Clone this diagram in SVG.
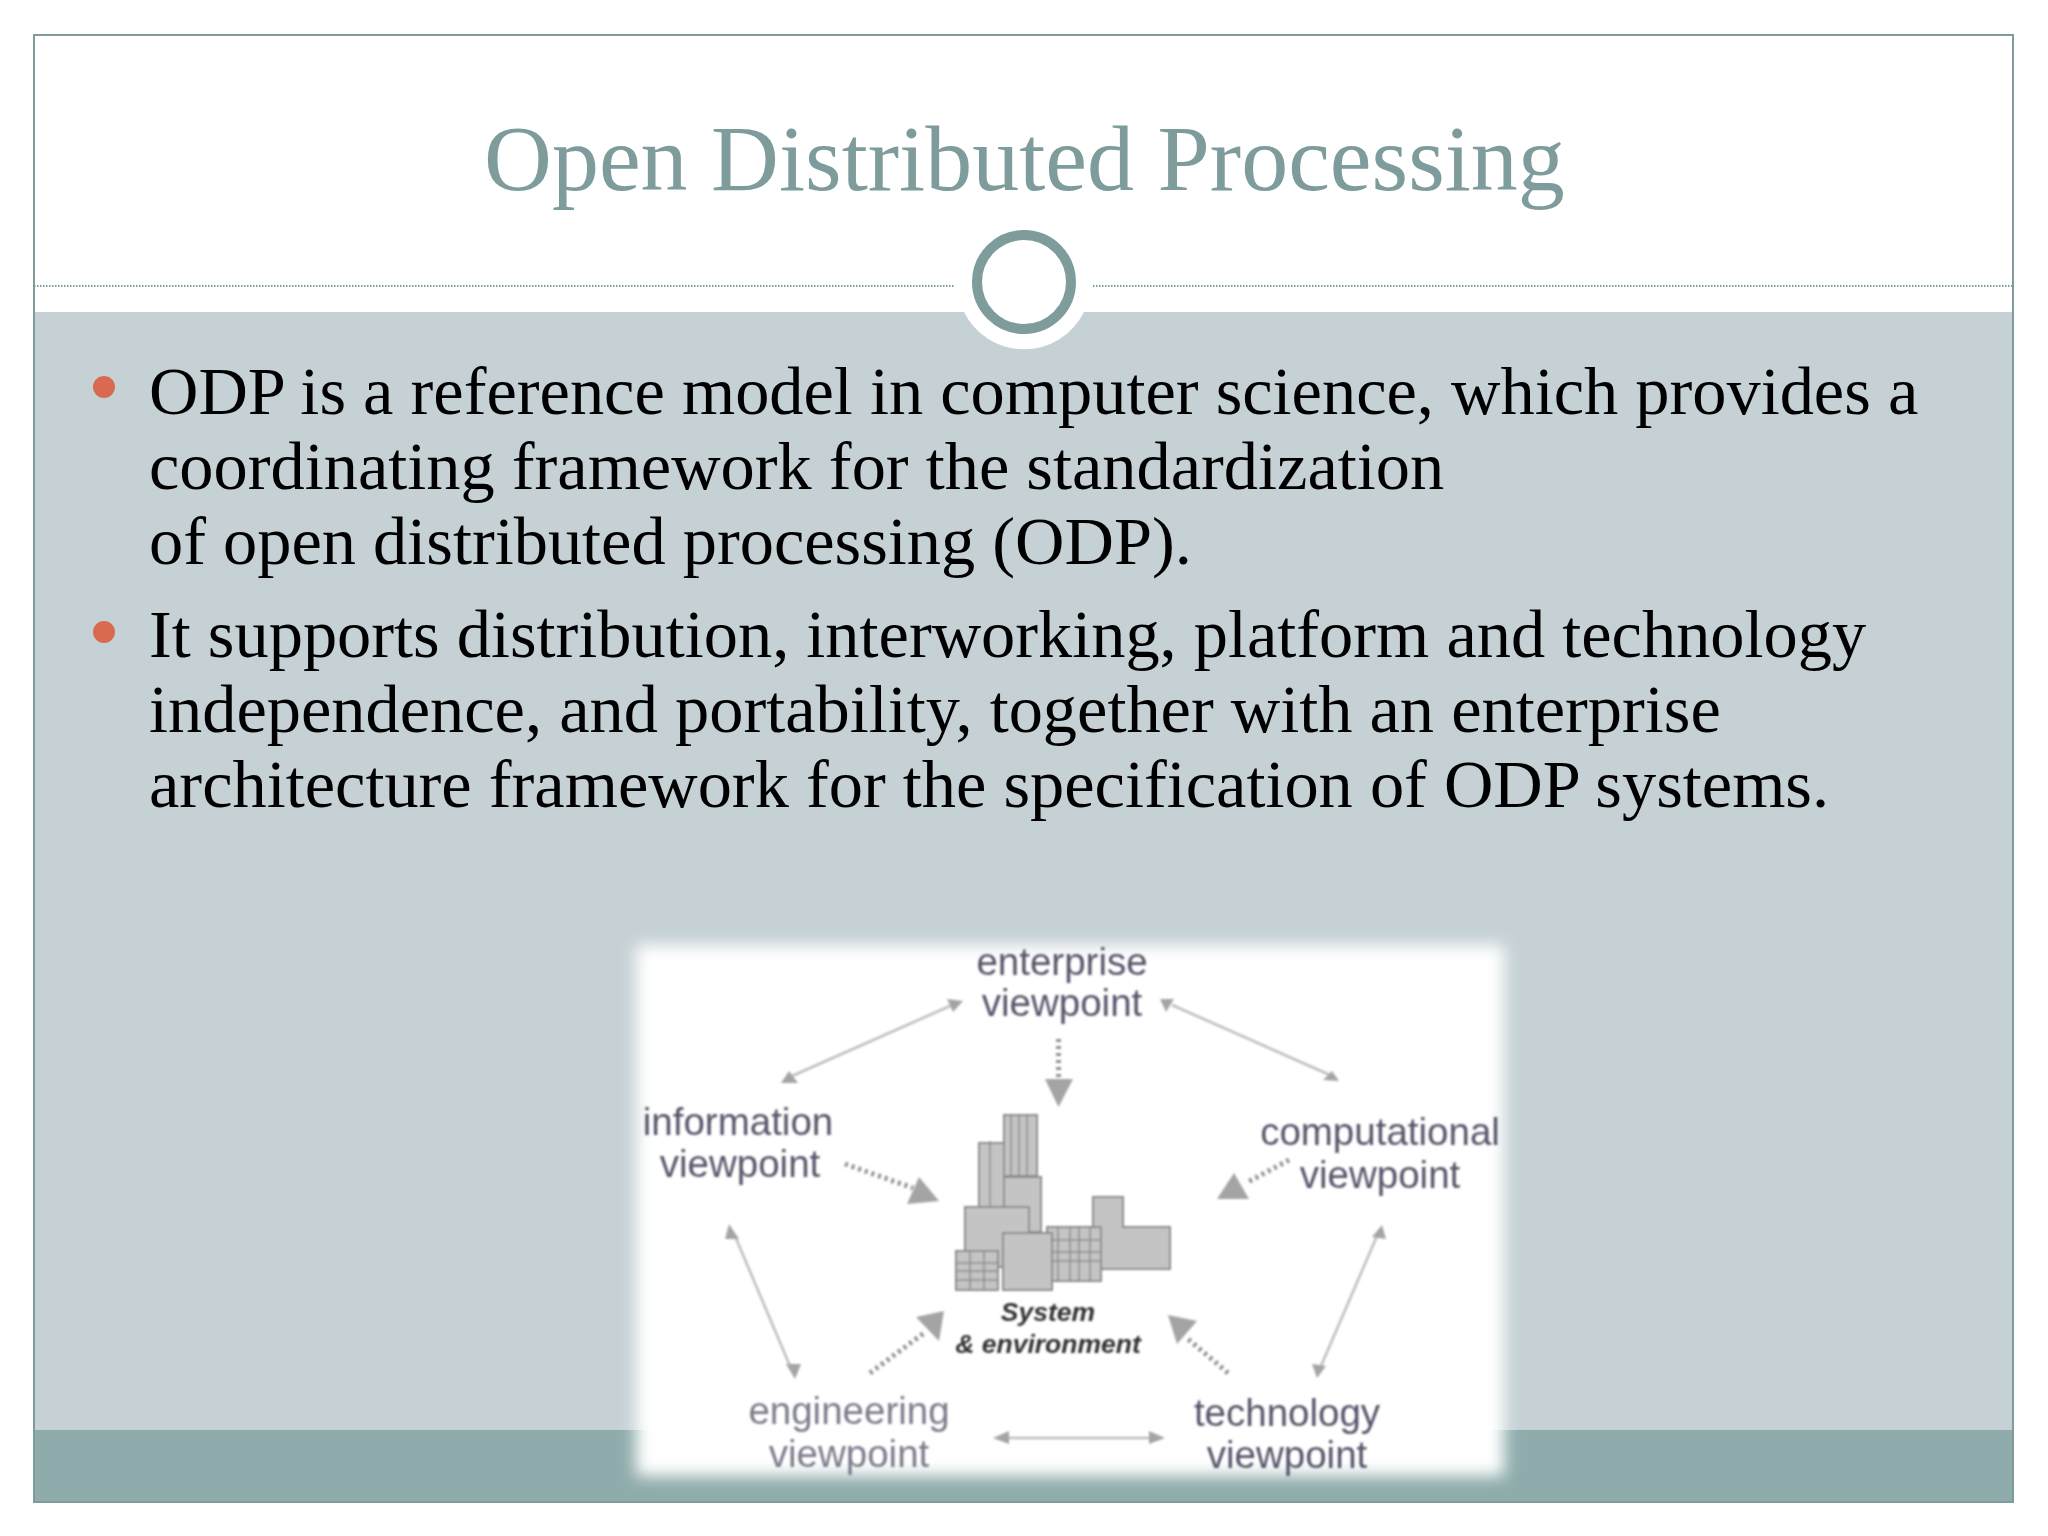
<svg xmlns="http://www.w3.org/2000/svg" width="2048" height="1536" viewBox="0 0 2048 1536">
<style>
.body{font-family:"Liberation Serif",serif;font-size:68.400px;fill:#000}
.title{font-family:"Liberation Serif",serif;font-size:94px;fill:#7f9c9c}
.vp{font-family:"Liberation Sans",sans-serif;font-size:38.500px;fill:#55556a;text-anchor:middle}
.lt{fill:#7c7c8c}
.sys{font-family:"Liberation Sans",sans-serif;font-size:26.500px;font-style:italic;font-weight:bold;fill:#333;text-anchor:middle}
.thin{stroke:#bdbdbd;stroke-width:2.500;fill:none}
.dot{stroke:#8f8f8f;stroke-width:5;stroke-dasharray:3 4;fill:none}
.hs{fill:#a4a4a4}
.hl{fill:#a4a4a4}
.b{fill:#c4c4c4;stroke:#8c8c8c;stroke-width:2}
.g{stroke:#8c8c8c;stroke-width:1.500;fill:none}
</style>
<defs>
<filter id="edge" x="-5%" y="-5%" width="110%" height="110%"><feGaussianBlur stdDeviation="8"/></filter>
<filter id="soft" x="-5%" y="-5%" width="110%" height="110%"><feGaussianBlur stdDeviation="0.9"/></filter>
</defs>
<rect width="2048" height="1536" fill="#fff"/>
<g id="background">
<rect x="34" y="312" width="1979" height="1118" fill="#c5d1d5"/>
<rect x="34" y="1430" width="1979" height="72" fill="#8fabab"/>
<rect x="34" y="35" width="1979" height="1467" fill="none" stroke="#7f9c9c" stroke-width="2"/>
<path d="M34 286H954M1093 286H2013" stroke="#7f9c9c" stroke-width="2" stroke-dasharray="1.500 1.500" fill="none"/>
<path d="M964 312A67 67 0 0 0 1084 312Z" fill="#fff"/>
<circle cx="1024" cy="282" r="47" fill="#fff" stroke="#7f9c9c" stroke-width="10"/>
</g>
<text class="title" x="484" y="190">Open Distributed Processing</text>
<g id="bullets">
<circle cx="104" cy="387" r="11" fill="#d9694f"/>
<circle cx="104" cy="632" r="11" fill="#d9694f"/>
<text class="body" x="149" y="414">ODP is a reference model in computer science, which provides a</text>
<text class="body" x="149" y="489">coordinating framework for the standardization</text>
<text class="body" x="149" y="564">of open distributed processing (ODP).</text>
<text class="body" x="149" y="657">It supports distribution, interworking, platform and technology</text>
<text class="body" x="149" y="732">independence, and portability, together with an enterprise</text>
<text class="body" x="149" y="807">architecture framework for the specification of ODP systems.</text>
</g>
<rect id="inset" x="636" y="945" width="868" height="531" fill="#fff" filter="url(#edge)"/>
<g filter="url(#soft)">
<g id="connectors">
<path class="thin" d="M950 1006L792 1076M1172 1005L1330 1075M735 1236L790 1366M1377 1236L1321 1366M1005 1438H1153"/>
<path class="hs" d="M947 999L963 1001L953 1012ZM789 1071L798 1083L781 1083ZM1160 999L1174 999L1166 1012ZM1332 1071L1339 1081L1323 1080ZM729 1224L739 1239L725 1239ZM786 1364L801 1364L795 1379ZM1382 1225L1386 1239L1372 1237ZM1312 1364L1326 1366L1317 1378ZM993 1438L1009 1431V1444ZM1165 1438L1149 1431V1444Z"/>
<path class="dot" d="M1058.500 1039V1079M845 1164L913 1188M1289 1160L1246 1183M870 1373L924 1333M1228 1373L1188 1339"/>
<path class="hl" d="M1045 1079H1073L1058.500 1107ZM919 1177L939 1201L907 1204ZM1234 1173L1249 1199L1217 1199ZM944 1311L916 1317L939 1341ZM1168 1315L1197 1321L1177 1344Z"/>
</g>
<g id="building">
<rect class="b" x="1004" y="1115" width="33" height="61"/>
<path class="g" d="M1011 1115V1176M1019 1115V1176M1027 1115V1176"/>
<rect class="b" x="979" y="1143" width="25" height="64"/>
<path class="g" d="M990 1141V1207"/>
<rect class="b" x="1004" y="1177" width="37" height="55"/>
<rect class="b" x="965" y="1207" width="64" height="60"/>
<rect class="b" x="956" y="1251" width="42" height="39"/>
<path class="g" d="M970 1251V1290M984 1251V1290M956 1263H998M956 1271H998M956 1280H998"/>
<path class="b" d="M1093 1197H1123V1227H1170V1269H1101V1227H1093Z"/>
<rect class="b" x="1047" y="1227" width="54" height="54"/>
<path class="g" d="M1058 1227V1281M1070 1227V1281M1079 1227V1281M1090 1227V1281M1047 1240H1101M1047 1252H1101M1047 1261H1101"/>
<rect class="b" x="1003" y="1233" width="49" height="57"/>
</g>
<g id="enterprise"><text class="vp" x="1062" y="975">enterprise</text><text class="vp" x="1062" y="1016">viewpoint</text></g>
<g id="information"><text class="vp" x="738" y="1135">information</text><text class="vp" x="740" y="1177">viewpoint</text></g>
<g id="computational"><text class="vp" x="1380" y="1145">computational</text><text class="vp" x="1380" y="1188">viewpoint</text></g>
<g id="engineering"><text class="vp lt" x="849" y="1424">engineering</text><text class="vp lt" x="849" y="1467">viewpoint</text></g>
<g id="technology"><text class="vp" x="1287" y="1426">technology</text><text class="vp" x="1287" y="1468">viewpoint</text></g>
<g id="system"><text class="sys" x="1048" y="1321">System</text><text class="sys" x="1048" y="1353">&amp; environment</text></g>
</g>
</svg>
